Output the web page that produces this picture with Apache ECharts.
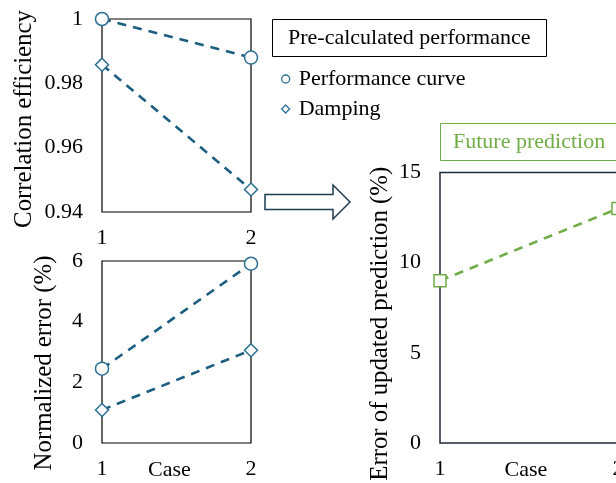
<!DOCTYPE html>
<html>
<head>
<meta charset="utf-8">
<script src="https://cdn.jsdelivr.net/npm/echarts@6/dist/echarts.min.js"></script>
<style>html,body{margin:0;padding:0;background:#fff;}#c{width:616px;height:483px;}</style>
</head>
<body>
<div id="c"></div>
<script>
// ---- data ----
var cases = [1, 2];
var caseLabels = ['1', '2'];
var corrPerformance = [1.0, 0.988];
var corrDamping = [0.9858, 0.947];
var errPerformance = [2.45, 5.91];
var errDamping = [1.09, 3.06];
var futurePrediction = [9.0, 13.0];
var corrTicks = ['0.94', '0.96', '0.98', '1'];
var errTicks = ['0', '2', '4', '6'];
var predTicks = ['0', '5', '10', '15'];

function pairs(vals) { return cases.map(function (c, i) { return [c, vals[i]]; }); }

var FONT = 'Liberation Serif';
var BLUE_LINE = '#1b5e80';
var BLUE_MARK = '#2b6f93';
var GREEN = '#70AD47';

var chart = echarts.init(document.getElementById('c'), null, {renderer: 'canvas'});

function xAxis(gi, showName, namePad) {
  return {
    type: 'value', gridIndex: gi, min: 1, max: 2, interval: 1,
    axisLine: {show: false}, axisTick: {show: false}, splitLine: {show: false},
    axisLabel: {margin: 15, color: '#000', fontFamily: FONT, fontSize: 22,
      formatter: function (v) { return caseLabels[cases.indexOf(v)]; }},
    name: showName ? 'Case' : '', nameLocation: 'middle', nameGap: 16, nameMoveOverlap: false,
    nameTextStyle: {color: '#000', fontFamily: FONT, fontSize: 22, verticalAlign: 'top', padding: namePad || 0}
  };
}
function yAxis(gi, min, max, interval, ticks, name, gap, pad) {
  return {
    type: 'value', gridIndex: gi, min: min, max: max, interval: interval,
    axisLine: {show: false}, axisTick: {show: false}, splitLine: {show: false},
    axisLabel: {margin: 19, color: '#000', fontFamily: FONT, fontSize: 22,
      formatter: function (v) { return ticks[Math.round((v - min) / interval)]; }},
    name: name, nameLocation: 'middle', nameGap: gap, nameMoveOverlap: false,
    nameTextStyle: {color: '#000', fontFamily: FONT, fontSize: 24.8, padding: pad || 0}
  };
}
function lineSeries(name, gi, vals, symbol, size, lineColor, markColor) {
  return {
    type: 'line', name: name, xAxisIndex: gi, yAxisIndex: gi,
    data: pairs(vals), symbol: symbol, symbolSize: size, showSymbol: true,
    lineStyle: {color: lineColor, width: 2.6, type: [9, 7]},
    itemStyle: {color: '#fff', borderColor: markColor, borderWidth: 1.5},
    emphasis: {disabled: true}, animation: false, z: 3
  };
}
function grid(l, t, w, h, bc, bw) {
  return {left: l, top: t, width: w, height: h, show: true, borderColor: bc, borderWidth: bw,
    backgroundColor: 'transparent', containLabel: false, outerBoundsMode: 'none'};
}

var option = {
  backgroundColor: '#fff',
  animation: false,
  textStyle: {fontFamily: FONT},
  grid: [
    grid(102, 19, 149, 193, '#000', 1.2),
    grid(102, 261, 149, 182, '#000', 1.2),
    grid(440, 172.5, 178, 270.5, '#1c2b3a', 1.5)
  ],
  xAxis: [xAxis(0, false), xAxis(1, true, [0, 14, 0, 0]), xAxis(2, true, [0, 6, 0, 0])],
  yAxis: [
    yAxis(0, 0.94, 1, 0.02, corrTicks, 'Correlation efficiency', 65, [0, 7, 0, 0]),
    yAxis(1, 0, 6, 2, errTicks, 'Normalized error (%)', 45, [0, 22, 0, 0]),
    yAxis(2, 0, 15, 5, predTicks, 'Error of updated prediction (%)', 47, [0, 32, 0, 0])
  ],
  title: [
    {text: 'Pre-calculated performance', left: 272, top: 19, padding: [8, 16], borderColor: '#000', borderWidth: 1,
      textStyle: {fontFamily: FONT, fontSize: 22, fontWeight: 'normal', color: '#000', lineHeight: 22}},
    {text: 'Future prediction', left: 440, top: 123, padding: [8, 80, 8, 13], borderColor: GREEN, borderWidth: 1,
      textStyle: {fontFamily: FONT, fontSize: 22, fontWeight: 'normal', color: GREEN, lineHeight: 22}}
  ],
  legend: {
    orient: 'vertical', left: 276, top: 63, itemGap: 8, itemWidth: 8, itemHeight: 8,
    selectedMode: false,
    textStyle: {fontFamily: FONT, fontSize: 22, color: '#000', padding: [0, 0, 0, 4]},
    data: [
      {name: 'Performance curve', icon: 'circle', itemStyle: {color: '#fff', borderColor: BLUE_MARK, borderWidth: 1.3}},
      {name: 'Damping', icon: 'diamond', itemStyle: {color: '#fff', borderColor: BLUE_MARK, borderWidth: 1.3}}
    ]
  },
  graphic: [
    {type: 'polygon', silent: true, z: 10,
      shape: {points: [[265, 194.5], [333, 194.5], [333, 185], [350, 202], [333, 219], [333, 209.5], [265, 209.5]]},
      style: {fill: '#fff', stroke: '#1f3d4f', lineWidth: 1.5}}
  ],
  series: [
    lineSeries('Performance curve', 0, corrPerformance, 'circle', 13, BLUE_LINE, BLUE_MARK),
    lineSeries('Damping', 0, corrDamping, 'diamond', 13, BLUE_LINE, BLUE_MARK),
    lineSeries('Performance curve', 1, errPerformance, 'circle', 13, BLUE_LINE, BLUE_MARK),
    lineSeries('Damping', 1, errDamping, 'diamond', 13, BLUE_LINE, BLUE_MARK),
    lineSeries('Future prediction', 2, futurePrediction, 'rect', 12, GREEN, GREEN)
  ]
};
chart.setOption(option);
</script>
</body>
</html>
